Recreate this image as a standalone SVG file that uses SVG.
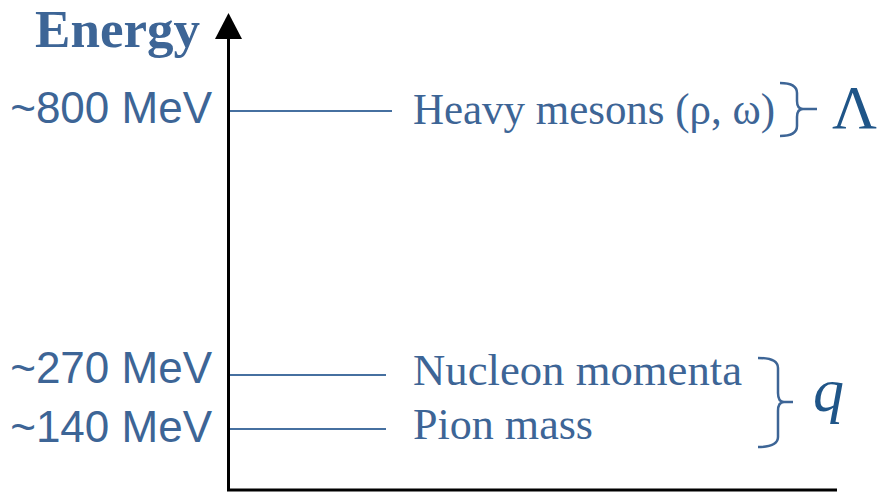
<svg xmlns="http://www.w3.org/2000/svg" width="884" height="492" viewBox="0 0 884 492">
<style>
.lbl{font-family:"Liberation Sans",Arial,sans-serif;font-size:44px;fill:#3d6596;text-anchor:end}
.txt{font-family:"Liberation Serif","Times New Roman",serif;font-size:44px;fill:#3d6596}
.lvl{stroke:#4670a0;stroke-width:2;fill:none}
.brace{stroke:#3d6596;stroke-width:2.5;fill:none}
.sym{font-family:"Liberation Serif","Times New Roman",serif;fill:#1f5588}
</style>
<g id="axes">
<line x1="228.5" y1="491" x2="228.5" y2="38" stroke="#000" stroke-width="3"/>
<path d="M215,39 L228.5,13 L242,39 Z" fill="#000"/>
<line x1="227" y1="490" x2="837" y2="490" stroke="#000" stroke-width="3"/>
</g>
<text id="energy" x="35" y="47" font-family="'Liberation Serif','Times New Roman',serif" font-weight="bold" font-size="52" fill="#3d6596" textLength="165" lengthAdjust="spacingAndGlyphs">Energy</text>
<g id="connectors">
<line class="lvl" x1="230" y1="111" x2="392" y2="111"/>
<line class="lvl" x1="230" y1="375" x2="386" y2="375"/>
<line class="lvl" x1="230" y1="429" x2="386" y2="429"/>
</g>
<g id="level-800">
<text class="lbl" x="212" y="123">~800 MeV</text>
<text class="txt" x="413" y="124" textLength="362" lengthAdjust="spacingAndGlyphs">Heavy mesons (ρ, ω)</text>
</g>
<g id="level-270">
<text class="lbl" x="212" y="383">~270 MeV</text>
<text class="txt" x="413" y="385" textLength="329" lengthAdjust="spacingAndGlyphs">Nucleon momenta</text>
</g>
<g id="level-140">
<text class="lbl" x="212" y="442">~140 MeV</text>
<text class="txt" x="413" y="439" textLength="180" lengthAdjust="spacingAndGlyphs">Pion mass</text>
</g>
<g id="brace-lambda">
<path class="brace" d="M780,83 Q797,83 797,93 L797,101 Q797,109 803,109 L817,109 M803,109 Q797,109 797,117 L797,126 Q797,136 780,136"/>
<text class="sym" x="832" y="128" font-size="62">Λ</text>
</g>
<g id="brace-q">
<path class="brace" d="M758,358 Q778,358 778,368 L778,393 Q778,402 784,402 L793,402 M784,402 Q778,402 778,411 L778,437 Q778,447 758,447"/>
<text class="sym" x="813" y="411" font-size="62" font-style="italic">q</text>
</g>
</svg>
